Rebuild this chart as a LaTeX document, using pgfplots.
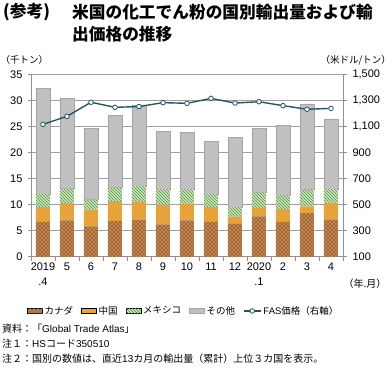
\documentclass[border=0pt]{standalone}
\usepackage{fontspec}
\setmainfont{Liberation Sans}
\newfontfamily\jp{Noto Sans CJK JP}
\usepackage{pgfplots}
\usepackage{pgfplotstable}
\pgfplotsset{compat=1.18}
\usetikzlibrary{patterns,patterns.meta}

\definecolor{cancol}{HTML}{A8662B}
\definecolor{chicol}{HTML}{E8A23A}
\definecolor{mexcol}{HTML}{CFE6BC}
\definecolor{mexline}{HTML}{4F9040}
\definecolor{othcol}{HTML}{C0C0C0}
\definecolor{othdraw}{HTML}{A6A6A6}
\definecolor{linecol}{HTML}{245761}
\definecolor{gridcol}{HTML}{A0A0A0}
\definecolor{axisgray}{HTML}{909090}

\pgfdeclarepattern{
  name=mydots,
  type=uncolored,
  bottom left={\pgfpoint{0pt}{0pt}},
  top right={\pgfpoint{4pt}{4pt}},
  tile size={\pgfpoint{4pt}{4pt}},
  code={
    \pgfpathcircle{\pgfpoint{1pt}{1pt}}{0.55pt}
    \pgfpathcircle{\pgfpoint{3pt}{3pt}}{0.55pt}
    \pgfusepath{fill}
  }
}

\pgfplotstableread{
x can chi mex oth fas
0 6.8 2.75 2.5 20.35 1118
1 7.0 3.3 2.8 17.4 1180
2 5.85 3.25 1.9 13.75 1288
3 6.9 3.8 2.6 13.9 1249
4 7.05 3.45 3.1 15.6 1255
5 6.2 3.8 3.0 11.1 1285
6 7.0 3.2 2.8 10.9 1280
7 6.8 2.75 2.45 10.25 1318
8 6.3 1.4 1.85 13.4 1282
9 7.77 1.63 2.9 12.4 1292
10 6.7 2.5 2.6 13.5 1262
11 8.4 1.3 3.2 16.5 1234
12 7.1 3.3 2.65 13.45 1241
}\data

\pgfplotsset{
  legimg/.style={legend image code/.code={\draw[##1] (0pt,-2.5pt) rectangle (15pt,2.5pt);}},
  cansty/.style={fill=cancol, draw=none, postaction={pattern=mydots, pattern color=white}},
  chisty/.style={fill=chicol, draw=none},
  mexsty/.style={fill=mexcol, draw=none, postaction={pattern=north west lines, pattern color=mexline}},
  othsty/.style={fill=othcol, draw=othdraw, line width=0.5pt},
}

\begin{document}
\begin{tikzpicture}
\useasboundingbox (0,0) rectangle (392pt,368pt);

% title
\node[anchor=west, inner sep=0, font=\jp\bfseries\fontsize{16.7}{20}\selectfont] at (3pt,356pt) {(参考)};
\node[anchor=west, inner sep=0, font=\jp\bfseries\fontsize{16.7}{20}\selectfont] at (72pt,356pt) {米国の化工でん粉の国別輸出量および輸};
\node[anchor=west, inner sep=0, font=\jp\bfseries\fontsize{16.7}{20}\selectfont] at (72pt,334pt) {出価格の推移};

% units
\node[anchor=west, inner sep=0, font=\jp\fontsize{9.5}{11}\selectfont] at (0.5pt,308pt) {（千トン）};
\node[anchor=east, inner sep=0, font=\jp\fontsize{9.5}{11}\selectfont] at (391pt,308pt) {（米ドル/トン）};
\node[anchor=center, inner sep=0, font=\jp\fontsize{10}{12}\selectfont] at (365pt,84pt) {（年.月）};

\begin{axis}[
  at={(31pt,111.3pt)}, anchor=south west, scale only axis,
  width=312pt, height=182pt,
  xmin=-0.5, xmax=12.5, ymin=0, ymax=35,
  ybar stacked, bar width=14pt,
  axis x line*=bottom, axis y line*=left,
  axis line style={-, draw=axisgray, line width=0.8pt},
  ytick={0,5,...,35},
  ymajorgrids, grid style={gridcol, line width=0.6pt},
  xtick={0,...,12},
  xticklabels={{2019\\.4},5,6,7,8,9,10,11,12,{2020\\.1},2,3,4},
  minor xtick={-0.5,0.5,...,12.5},
  major x tick style={draw=none},
  minor x tick style={draw=axisgray, line width=0.6pt},
  minor tick length=4pt,
  major tick length=3pt,
  y tick style={draw=axisgray, line width=0.6pt},
  tick align=outside,
  xticklabel style={align=center, font=\fontsize{11}{15}\selectfont},
  yticklabel style={font=\fontsize{11}{13}\selectfont, xshift=-2pt},
  /pgf/number format/assume math mode=true,
]
\addplot[cansty] table[x=x,y=can]{\data};
\addplot[chisty] table[x=x,y=chi]{\data};
\addplot[mexsty] table[x=x,y=mex]{\data};
\addplot[othsty] table[x=x,y=oth]{\data};
\end{axis}

\begin{axis}[
  at={(31pt,111.3pt)}, anchor=south west, scale only axis,
  width=312pt, height=182pt,
  xmin=-0.5, xmax=12.5, ymin=100, ymax=1500,
  axis x line=none, axis y line*=right,
  axis line style={-, draw=axisgray, line width=0.8pt},
  ytick={100,300,...,1500},
  major tick length=4pt,
  y tick style={draw=axisgray, line width=0.6pt},
  tick align=outside,
  yticklabel style={font=\fontsize{11}{13}\selectfont, xshift=2pt},
  /pgf/number format/assume math mode=true,
  /pgf/number format/1000 sep={,},
  legend style={draw=none, fill=none, legend columns=-1,
    at={(0.49,-0.298)}, anchor=center,
    font=\fontsize{9.5}{11}\selectfont,
    /tikz/every even column/.append style={column sep=6pt},
    /tikz/every odd column/.append style={column sep=0pt}},
]
\addlegendimage{legimg, cansty}
\addlegendentry{\jp カナダ}
\addlegendimage{legimg, chisty}
\addlegendentry{\jp 中国}
\addlegendimage{legimg, mexsty}
\addlegendentry{\jp メキシコ}
\addlegendimage{legimg, othsty}
\addlegendentry{\jp その他}
\addplot[color=linecol, line width=1.4pt, mark=*, mark size=2.3pt,
  mark options={fill=white, draw=linecol, line width=0.8pt}] table[x=x,y=fas]{\data};
\addlegendentry{FAS{\jp 価格（右軸）}}
\end{axis}

% notes
\node[anchor=west, inner sep=0, font=\fontsize{10}{12}\selectfont] at (2pt,39pt) {{\jp 資料：「}Global Trade Atlas{\jp 」}};
\node[anchor=west, inner sep=0, font=\fontsize{10}{12}\selectfont] at (2pt,24pt) {{\jp 注１：}HS{\jp コード}350510};
\node[anchor=west, inner sep=0, font=\fontsize{10}{12}\selectfont] at (2pt,9pt) {{\jp 注２：国別の数値は、直近}13{\jp カ月の輸出量（累計）上位３カ国を表示。}};
\end{tikzpicture}
\end{document}
